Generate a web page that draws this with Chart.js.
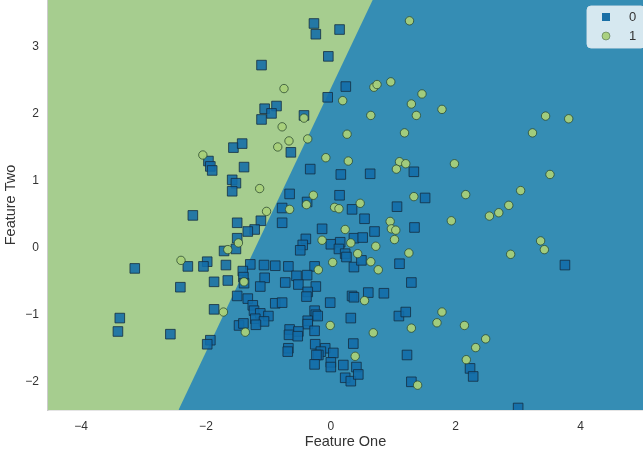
<!DOCTYPE html>
<html>
<head>
<meta charset="utf-8">
<script src="https://cdn.jsdelivr.net/npm/chart.js@4.4.1/dist/chart.umd.min.js"></script>
<style>
  html, body { margin: 0; padding: 0; background: #fff; }
  #wrap { width: 643px; height: 456px; position: relative; }
</style>
</head>
<body>
<div id="wrap"><canvas id="chart"></canvas></div>
<script>
// axis extents and ticks
const xRange = [-4.53, 5.0];
const yRange = [-2.42, 3.69];
const xTicks = [-4, -2, 0, 2, 4];
const yTicks = [-2, -1, 0, 1, 2, 3];

// decision boundary (where it meets bottom and top of the plot)
const boundaryX = [-2.44, 0.67];

// class 0 (squares)
const class0X = [-0.27, -0.24, 0.14, -0.04, -1.11, 0.24, -0.05, -1.06, -0.87, -0.95, -1.11, -0.43, -1.56, -1.42, -0.64, -1.96, -1.93, -1.90, -1.39, -0.33,
  0.16, 0.63, 1.33, -1.58, -1.52, -1.58, -0.66, 0.14, 1.51, -2.21, -0.38, -0.78, 0.34, 1.06, -1.50, -1.12, -0.78, 0.54, -1.22, -1.33,
  -0.14, 0.70, 1.34, -1.50, -0.40, 0.37, 0.51, -0.45, -0.49, 0.00, 0.15, 0.13, 0.23, 0.25, -1.52, -1.71, -1.98, -2.04, -2.29, -1.68,
  -3.14, -1.29, -1.07, -0.89, -0.68, -0.26, 0.37, 0.49, 1.10, 3.75, -1.41, -1.40, -1.06, -0.55, -0.38, -1.87, -1.65, -1.39, -1.13, -0.73,
  -0.52, -0.24, 1.29, -2.41, -1.50, -1.33, -0.37, -0.39, 0.34, 0.37, 0.60, 0.85, -1.25, -0.89, -0.78, -0.01, -1.87, -1.23, -1.13, -0.26,
  -0.24, -0.21, -1.00, -1.21, -1.07, -0.37, -0.37, 0.32, 1.09, 1.20, -3.38, -3.41, -2.57, -1.47, -1.40, -1.20, -0.66, -0.67, -0.52, -0.26,
  -0.53, -1.93, -1.98, -0.25, 0.36, -0.68, -0.69, -0.09, -0.16, -0.20, 0.04, -0.23, 1.22, -0.26, 0.00, 0.00, 0.20, 0.41, 0.23, 0.32,
  0.44, 2.23, 2.28, 1.29, 3.00];
const class0Y = [3.34, 3.18, 3.25, 2.85, 2.72, 2.40, 2.24, 2.07, 2.11, 2.00, 1.91, 1.97, 1.49, 1.55, 1.42, 1.29, 1.21, 1.15, 1.20, 1.17,
  1.09, 1.10, 1.13, 1.01, 0.96, 0.84, 0.80, 0.78, 0.74, 0.48, 0.68, 0.59, 0.57, 0.61, 0.37, 0.40, 0.37, 0.43, 0.27, 0.24,
  0.28, 0.24, 0.30, 0.14, 0.13, 0.14, 0.15, 0.04, -0.04, 0.05, 0.08, -0.02, -0.09, -0.14, -0.02, -0.05, -0.21, -0.28, -0.28, -0.26,
  -0.31, -0.25, -0.26, -0.27, -0.28, -0.28, -0.29, -0.19, -0.24, -0.26, -0.35, -0.44, -0.45, -0.42, -0.41, -0.51, -0.49, -0.53, -0.58, -0.52,
  -0.55, -0.58, -0.52, -0.59, -0.72, -0.76, -0.66, -0.73, -0.72, -0.74, -0.67, -0.68, -0.86, -0.83, -0.82, -0.82, -0.92, -0.94, -0.98, -0.94,
  -1.00, -1.02, -1.02, -1.06, -1.10, -1.09, -1.14, -1.05, -1.02, -0.96, -1.05, -1.25, -1.29, -1.16, -1.13, -1.15, -1.22, -1.30, -1.25, -1.24,
  -1.32, -1.38, -1.44, -1.44, -1.43, -1.50, -1.55, -1.50, -1.55, -1.60, -1.57, -1.60, -1.60, -1.74, -1.71, -1.78, -1.75, -1.78, -1.94, -1.99,
  -1.89, -1.80, -1.92, -2.00, -2.39];

// class 1 (circles)
const class1X = [1.26, -0.75, 0.69, 0.74, 0.96, 1.46, 0.19, 1.29, 1.78, 0.64, 1.37, -0.43, 3.44, 3.81, -0.78, 0.26, 1.18, 3.23, -0.37, -0.67,
  -0.85, -2.05, -0.08, 0.28, 1.10, 1.20, 1.05, 1.98, 3.51, -1.14, 3.04, -0.28, 2.16, 1.33, 0.47, -0.39, 2.85, -1.03, -0.66, 0.06,
  0.13, 2.69, 2.54, 0.95, 1.93, 0.23, 0.97, 1.04, 1.02, -0.14, 0.32, -1.48, 0.72, 3.36, 3.42, -1.65, 0.43, 1.25, 2.88, -2.40,
  0.03, 0.64, -0.20, 0.76, -1.39, 0.54, -1.72, 1.78, 1.70, -0.01, 2.14, 1.29, -1.37, 0.68, 2.48, 2.32, 0.39, 2.17, 1.39];
const class1Y = [3.38, 2.37, 2.39, 2.43, 2.47, 2.29, 2.19, 2.14, 2.06, 1.97, 1.97, 1.93, 1.96, 1.92, 1.80, 1.69, 1.71, 1.71, 1.62, 1.59,
  1.50, 1.38, 1.34, 1.29, 1.28, 1.25, 1.17, 1.25, 1.09, 0.88, 0.85, 0.78, 0.79, 0.76, 0.66, 0.64, 0.63, 0.54, 0.57, 0.60,
  0.58, 0.52, 0.47, 0.39, 0.40, 0.27, 0.28, 0.26, 0.12, 0.11, 0.07, 0.07, 0.02, 0.10, -0.03, -0.03, -0.09, -0.08, -0.10, -0.19,
  -0.22, -0.21, -0.33, -0.33, -0.51, -0.79, -0.96, -0.96, -1.12, -1.16, -1.16, -1.20, -1.26, -1.27, -1.36, -1.49, -1.62, -1.67, -2.05];

const classLabels = ['0', '1'];

const pts = (xs, ys) => xs.map((x, i) => ({ x, y: ys[i] }));
const minus = v => (v < 0 ? '\u2212' + Math.abs(v) : String(v));

const squareFill = 'rgba(18,108,168,0.88)';
const circleFill = 'rgba(168,208,122,0.95)';

// legend drawn inside the plot, top-right
const innerLegend = {
  id: 'innerLegend',
  afterDraw(chart) {
    const { ctx, chartArea } = chart;
    const w = 58, h = 42;
    const x0 = chartArea.right - w + 2, y0 = chartArea.top + 6;
    ctx.save();
    ctx.beginPath();
    ctx.roundRect(x0, y0, w, h, 4);
    ctx.fillStyle = 'rgba(255,255,255,0.8)';
    ctx.fill();
    ctx.strokeStyle = 'rgba(220,230,235,0.9)';
    ctx.lineWidth = 1;
    ctx.stroke();

    ctx.fillStyle = '#1a6fa6';
    ctx.fillRect(x0 + 15, y0 + 7, 8, 8);
    ctx.beginPath();
    ctx.arc(x0 + 19, y0 + 30, 4, 0, Math.PI * 2);
    ctx.fillStyle = circleFill;
    ctx.fill();
    ctx.strokeStyle = 'rgba(60,90,60,0.5)';
    ctx.stroke();

    ctx.fillStyle = '#333';
    ctx.font = '13px "Liberation Sans", Arial, sans-serif';
    ctx.textBaseline = 'middle';
    ctx.fillText(classLabels[0], x0 + 42, y0 + 11);
    ctx.fillText(classLabels[1], x0 + 42, y0 + 30);
    ctx.restore();
  }
};

document.addEventListener('DOMContentLoaded', () => {
  Chart.defaults.font.family = '"Liberation Sans", Arial, sans-serif';
  Chart.defaults.color = '#333';

  new Chart(document.getElementById('chart'), {
    type: 'scatter',
    data: {
      datasets: [
        {
          label: classLabels[1],
          data: pts(class1X, class1Y),
          pointStyle: 'circle',
          pointRadius: 4.2,
          backgroundColor: circleFill,
          borderColor: 'rgba(40,70,45,0.75)',
          borderWidth: 1,
          clip: 0
        },
        {
          label: classLabels[0],
          data: pts(class0X, class0Y),
          pointStyle: 'rect',
          pointRadius: 6.8,
          backgroundColor: squareFill,
          borderColor: 'rgba(20,45,65,0.8)',
          borderWidth: 1,
          clip: 0
        },
        {
          label: 'region 0',
          data: [
            { x: boundaryX[0], y: yRange[0] },
            { x: boundaryX[1], y: yRange[1] },
            { x: xRange[1], y: yRange[1] }
          ],
          showLine: true,
          fill: 'start',
          backgroundColor: 'rgb(53,141,180)',
          borderWidth: 0,
          pointRadius: 0
        },
        {
          label: 'region 1',
          data: [
            { x: xRange[0], y: yRange[1] },
            { x: xRange[1], y: yRange[1] }
          ],
          showLine: true,
          fill: 'start',
          backgroundColor: 'rgb(166,205,143)',
          borderWidth: 0,
          pointRadius: 0
        }
      ]
    },
    options: {
      responsive: true,
      maintainAspectRatio: false,
      animation: false,
      layout: { padding: 0, autoPadding: false },
      plugins: {
        legend: { display: false },
        tooltip: { enabled: false }
      },
      scales: {
        x: {
          type: 'linear',
          min: xRange[0],
          max: xRange[1],
          z: 1,
          afterBuildTicks: s => { s.ticks = xTicks.map(v => ({ value: v })); },
          afterFit: s => { s.height = 46; s.paddingLeft = 0; s.paddingRight = 0; },
          ticks: { callback: v => minus(v), padding: 9, font: { size: 12 } },
          grid: { color: 'rgba(0,0,0,0.07)', drawTicks: false },
          border: { color: '#cccccc', width: 1.5 },
          title: { display: true, text: 'Feature One', font: { size: 14.5 }, padding: { top: 0, bottom: 5 } }
        },
        y: {
          type: 'linear',
          min: yRange[0],
          max: yRange[1],
          z: 1,
          afterBuildTicks: s => { s.ticks = yTicks.map(v => ({ value: v })); },
          afterFit: s => { s.width = 48; s.paddingTop = 0; s.paddingBottom = 0; },
          ticks: { callback: v => minus(v), padding: 9, font: { size: 12 } },
          grid: { color: 'rgba(0,0,0,0.07)', drawTicks: false },
          border: { color: '#cccccc', width: 1.5 },
          title: { display: true, text: 'Feature Two', font: { size: 14.5 }, padding: { top: 2, bottom: 0 } }
        }
      }
    },
    plugins: [innerLegend]
  });
});
</script>
</body>
</html>
